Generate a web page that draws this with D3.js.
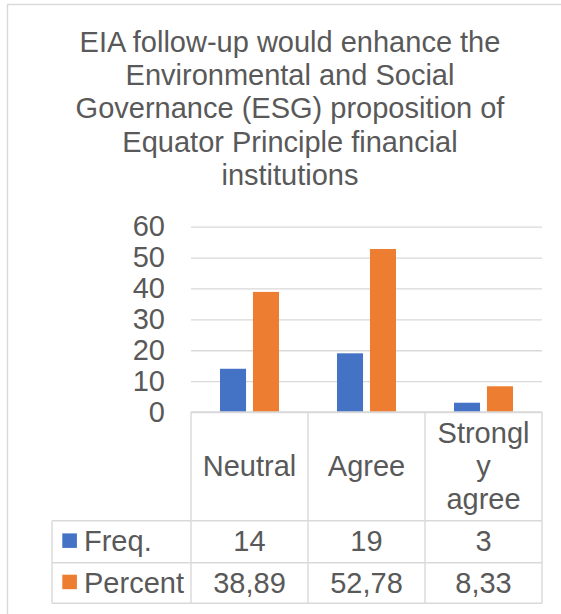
<!DOCTYPE html>
<html>
<head>
<meta charset="utf-8">
<script src="https://cdn.jsdelivr.net/npm/d3@7"></script>
<style>
  html, body { margin: 0; padding: 0; background: #fff; }
  svg { display: block; }
  text { font-family: "Liberation Sans", Arial, sans-serif; fill: #595959; }
</style>
</head>
<body>
<svg id="chart" width="561" height="614"></svg>
<script>
// Survey responses
const categories = ["Neutral", "Agree", "Strongly agree"];
const seriesNames = ["Freq.", "Percent"];
const freqValues = [14, 19, 3];
const percentValues = [38.89, 52.78, 8.33];
const yTickValues = [0, 10, 20, 30, 40, 50, 60];
const titleLines = [
  "EIA follow-up would enhance the",
  "Environmental and Social",
  "Governance (ESG) proposition of",
  "Equator Principle financial",
  "institutions"
];

const colors = { "Freq.": "#4472C4", "Percent": "#ED7D31" };
const gridColor = "#D9D9D9";
const fontSize = 29;
const lineStep = 33.4;

const seriesValues = { "Freq.": freqValues, "Percent": percentValues };
const rows = categories.map((c, i) => ({
  category: c,
  values: seriesNames.map(s => ({ series: s, value: seriesValues[s][i] }))
}));

const locale = d3.formatLocale({ decimal: ",", thousands: ".", grouping: [3], currency: ["", ""] });
const fmt = { "Freq.": locale.format("d"), "Percent": locale.format(".2f") };

const svg = d3.select("#chart");

// chart frame
svg.append("rect")
  .attr("x", 7.5).attr("y", 4.5)
  .attr("width", 600).attr("height", 640)
  .attr("fill", "none")
  .attr("stroke", gridColor)
  .attr("stroke-width", 1.4);

// title
svg.append("g")
  .selectAll("text")
  .data(titleLines)
  .join("text")
  .attr("x", 290)
  .attr("y", (d, i) => 51.7 + i * 33.3)
  .attr("text-anchor", "middle")
  .style("font-size", fontSize + "px")
  .text(d => d);

// plot area
const plot = { left: 191, right: 542, top: 226.7, bottom: 412 };

const x = d3.scaleBand()
  .domain(categories)
  .range([plot.left, plot.right])
  .paddingInner(0)
  .paddingOuter(0);

const x1 = d3.scaleBand()
  .domain(seriesNames)
  .range([0, x.bandwidth()])
  .paddingInner(0.21)
  .paddingOuter(0.88);

const y = d3.scaleLinear()
  .domain([0, 60])
  .range([plot.bottom, plot.top]);

// gridlines and value labels
const yAxis = svg.append("g")
  .attr("transform", `translate(${plot.left},0)`)
  .call(d3.axisLeft(y)
    .tickValues(yTickValues)
    .tickSize(-(plot.right - plot.left))
    .tickPadding(26)
    .tickFormat(d3.format("d")));
yAxis.select(".domain").remove();
yAxis.selectAll(".tick line")
  .attr("stroke", gridColor)
  .attr("stroke-width", 1.3);
yAxis.selectAll(".tick text")
  .attr("fill", "#595959")
  .style("font-size", fontSize + "px")
  .style("font-family", "\"Liberation Sans\", Arial, sans-serif");

// bars
svg.append("g")
  .selectAll("g")
  .data(rows)
  .join("g")
  .attr("transform", d => `translate(${x(d.category)},0)`)
  .selectAll("rect")
  .data(d => d.values)
  .join("rect")
  .attr("x", d => x1(d.series))
  .attr("width", x1.bandwidth())
  .attr("y", d => y(d.value))
  .attr("height", d => y(0) - y(d.value))
  .attr("fill", d => colors[d.series]);

// data table
const table = {
  left: 52,
  headerTop: plot.bottom,
  headerBottom: 520.7,
  rowBottoms: [562.7, 603.3]
};
const tbl = svg.append("g")
  .attr("stroke", gridColor)
  .attr("stroke-width", 1.4)
  .attr("fill", "none");

const colEdges = categories.map(c => x(c)).concat([x.range()[1]]);
// column dividers
tbl.selectAll("line.col")
  .data(colEdges)
  .join("line")
  .attr("class", "col")
  .attr("x1", d => d).attr("x2", d => d)
  .attr("y1", table.headerTop)
  .attr("y2", table.rowBottoms[1]);
// legend column left edge
tbl.append("line")
  .attr("x1", table.left).attr("x2", table.left)
  .attr("y1", table.headerBottom).attr("y2", table.rowBottoms[1]);
// axis line / header top
tbl.append("line")
  .attr("x1", plot.left).attr("x2", plot.right)
  .attr("y1", table.headerTop).attr("y2", table.headerTop);
// row lines
tbl.selectAll("line.row")
  .data([table.headerBottom].concat(table.rowBottoms))
  .join("line")
  .attr("class", "row")
  .attr("x1", table.left).attr("x2", plot.right)
  .attr("y1", d => d).attr("y2", d => d);

// wrap a label into lines no wider than maxWidth; a word too long for a line
// is broken by character and its tail stays on a line of its own
function wrapLabel(label, maxWidth) {
  const probe = svg.append("text").style("font-size", fontSize + "px");
  const width = s => { probe.text(s); return probe.node().getComputedTextLength(); };
  const lines = [];
  let current = "";
  label.split(" ").forEach(word => {
    const candidate = current ? current + " " + word : word;
    if (width(candidate) <= maxWidth) { current = candidate; return; }
    if (current) lines.push(current);
    current = "";
    if (width(word) <= maxWidth) { current = word; return; }
    let piece = "";
    for (const ch of word) {
      if (width(piece + ch) <= maxWidth || !piece) piece += ch;
      else { lines.push(piece); piece = ch; }
    }
    lines.push(piece);
  });
  if (current) lines.push(current);
  probe.remove();
  return lines;
}

// header cells
const headerMid = (table.headerTop + table.headerBottom) / 2;
const headerCells = svg.append("g")
  .selectAll("text")
  .data(categories)
  .join("text")
  .attr("text-anchor", "middle")
  .style("font-size", fontSize + "px")
  .attr("transform", d => `translate(${x(d) + x.bandwidth() / 2},0)`);
headerCells.each(function(d) {
  const lines = wrapLabel(d, 100);
  d3.select(this).selectAll("tspan")
    .data(lines)
    .join("tspan")
    .attr("x", 0)
    .attr("y", (l, i) => headerMid + 9.7 + (i - (lines.length - 1) / 2) * lineStep)
    .text(l => l);
});

// value rows with legend keys
const rowTops = [table.headerBottom, table.rowBottoms[0]];
const valueRows = svg.append("g")
  .selectAll("g")
  .data(seriesNames)
  .join("g")
  .attr("transform", (s, i) => `translate(0,${(rowTops[i] + table.rowBottoms[i]) / 2})`);

valueRows.append("rect")
  .attr("x", 62.3)
  .attr("y", -8.3)
  .attr("width", 14.6)
  .attr("height", 14.5)
  .attr("fill", s => colors[s]);

valueRows.append("text")
  .attr("x", 84)
  .attr("dy", "0.33em")
  .style("font-size", fontSize + "px")
  .text(s => s);

valueRows.selectAll("text.val")
  .data(s => seriesValues[s].map((v, i) => ({ s, v, c: categories[i] })))
  .join("text")
  .attr("class", "val")
  .attr("x", d => x(d.c) + x.bandwidth() / 2)
  .attr("dy", "0.33em")
  .attr("text-anchor", "middle")
  .style("font-size", fontSize + "px")
  .text(d => fmt[d.s](d.v));
</script>
</body>
</html>
